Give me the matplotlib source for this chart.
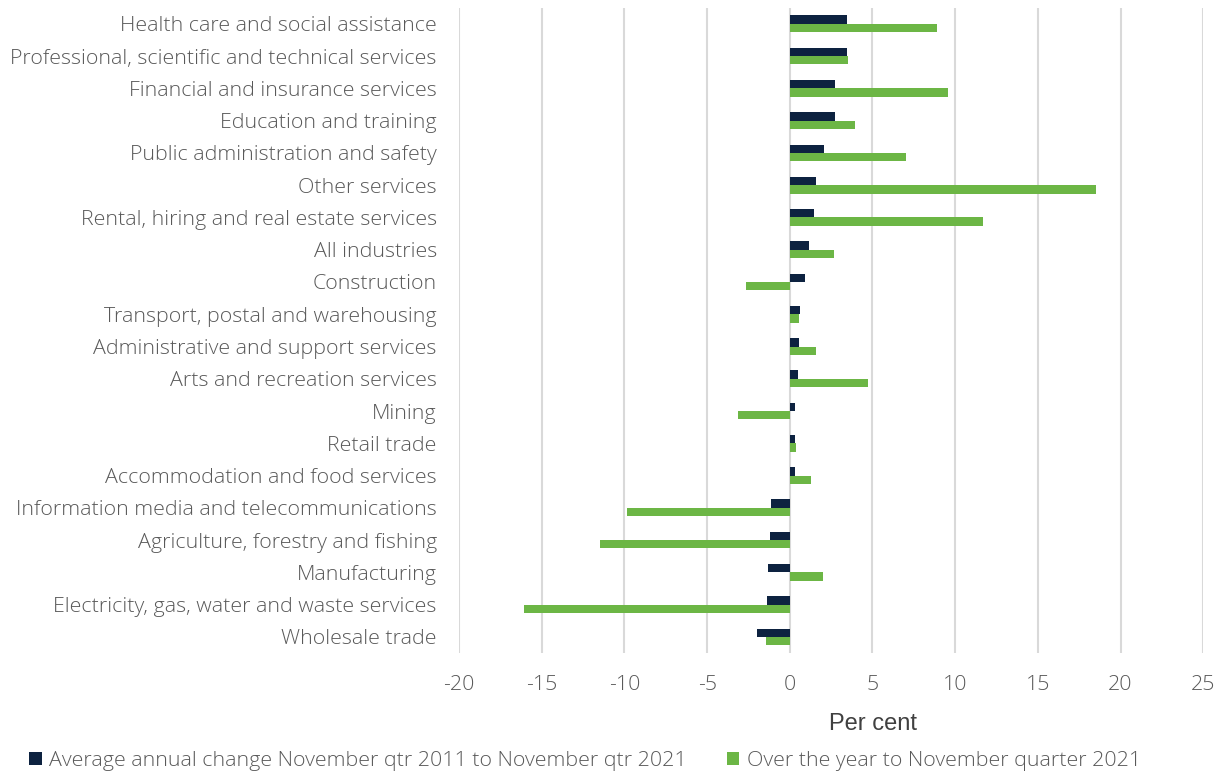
import matplotlib
matplotlib.use("Agg")
import matplotlib.pyplot as plt
import numpy as np

# Industries, top to bottom
industries = [
    "Health care and social assistance",
    "Professional, scientific and technical services",
    "Financial and insurance services",
    "Education and training",
    "Public administration and safety",
    "Other services",
    "Rental, hiring and real estate services",
    "All industries",
    "Construction",
    "Transport, postal and warehousing",
    "Administrative and support services",
    "Arts and recreation services",
    "Mining",
    "Retail trade",
    "Accommodation and food services",
    "Information media and telecommunications",
    "Agriculture, forestry and fishing",
    "Manufacturing",
    "Electricity, gas, water and waste services",
    "Wholesale trade",
]
avg_annual = [3.46, 3.44, 2.75, 2.75, 2.1, 1.6, 1.44, 1.19, 0.95, 0.61,
              0.56, 0.5, 0.34, 0.34, 0.32, -1.15, -1.2, -1.34, -1.36, -1.98]
over_year = [8.93, 3.52, 9.57, 3.93, 7.04, 18.52, 11.7, 2.69, -2.65, 0.53,
             1.56, 4.74, -3.1, 0.36, 1.27, -9.86, -11.46, 2.0, -16.05, -1.44]
xticks = [-20, -15, -10, -5, 0, 5, 10, 15, 20, 25]

navy = "#0d2240"
green = "#6cb645"
txt = "#595959"
plt.rcParams['font.family'] = ['Open Sans', 'DejaVu Sans']
plt.rcParams['font.weight'] = 'light'

fig = plt.figure(figsize=(12.24, 7.71), dpi=100)
ax = fig.add_axes([0.375, 0.153, 0.608, 0.837])

y = np.arange(len(industries))
h = 0.26
ax.barh(y - h / 2, avg_annual, h, color=navy,
        label="Average annual change November qtr 2011 to November qtr 2021", zorder=3)
ax.barh(y + h / 2, over_year, h, color=green,
        label="Over the year to November quarter 2021", zorder=3)

ax.set_ylim(len(industries) - 0.5, -0.5)
ax.set_xlim(-20, 25)
ax.set_xticks(xticks)
ax.set_xticklabels([str(t) for t in xticks])
ax.set_yticks(y)
ax.set_yticklabels(industries)
ax.tick_params(axis='both', length=0, labelsize=15.4, colors=txt)
ax.tick_params(axis='y', pad=16)
ax.tick_params(axis='x', pad=16)
ax.grid(axis='x', color="#d9d9d9", linewidth=1.5, zorder=0)
for s in ax.spines.values():
    s.set_visible(False)

ax.set_xlabel("Per cent", fontsize=17, color="#404040", family="Liberation Sans",
              fontweight="normal")
ax.xaxis.set_label_coords(0.556, -0.093)

leg = fig.legend(loc="lower left", bbox_to_anchor=(0.008, -0.025), ncol=2, frameon=False,
                 fontsize=15.4, handlelength=0.6, handleheight=0.6, handletextpad=0.35,
                 columnspacing=1.85)
for t in leg.get_texts():
    t.set_color(txt)

fig.savefig("out.png", dpi=100)
